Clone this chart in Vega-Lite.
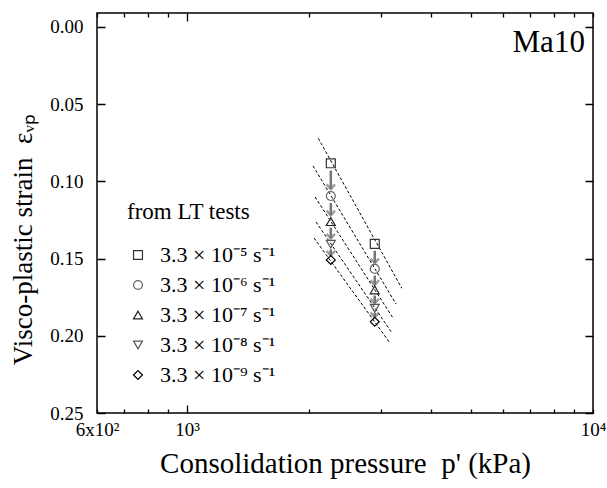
{
  "$schema": "https://vega.github.io/schema/vega-lite/v6.json",
  "width": 496,
  "height": 400,
  "autosize": {"type": "none"},
  "padding": {"left": 97, "top": 13, "right": 14, "bottom": 75},
  "background": "white",
  "config": {
    "font": "Liberation Serif",
    "view": {"stroke": "black", "strokeWidth": 1.5},
    "axis": {
      "domain": false,
      "ticks": false,
      "labelColor": "black",
      "titleColor": "black",
      "labelFont": "Liberation Serif",
      "titleFont": "Liberation Serif",
      "labelFontSize": 19,
      "titleFontSize": 28,
      "titleFontWeight": "normal",
      "labelFlush": false,
      "labelOverlap": false
    }
  },
  "datasets": {
    "points": [
      {"p": 2260, "eps": 0.0883, "rate": "3.3 × 10⁻⁵ s⁻¹"},
      {"p": 2260, "eps": 0.1095, "rate": "3.3 × 10⁻⁶ s⁻¹"},
      {"p": 2260, "eps": 0.1261, "rate": "3.3 × 10⁻⁷ s⁻¹"},
      {"p": 2260, "eps": 0.1407, "rate": "3.3 × 10⁻⁸ s⁻¹"},
      {"p": 2260, "eps": 0.1509, "rate": "3.3 × 10⁻⁹ s⁻¹"},
      {"p": 2900, "eps": 0.1405, "rate": "3.3 × 10⁻⁵ s⁻¹"},
      {"p": 2900, "eps": 0.1567, "rate": "3.3 × 10⁻⁶ s⁻¹"},
      {"p": 2900, "eps": 0.1703, "rate": "3.3 × 10⁻⁷ s⁻¹"},
      {"p": 2900, "eps": 0.1822, "rate": "3.3 × 10⁻⁸ s⁻¹"},
      {"p": 2900, "eps": 0.1909, "rate": "3.3 × 10⁻⁹ s⁻¹"}
    ],
    "lines": [
      {"series": "a", "p": 2105, "eps": 0.0721},
      {"series": "a", "p": 3380, "eps": 0.1692},
      {"series": "b", "p": 2043, "eps": 0.0900},
      {"series": "b", "p": 3272, "eps": 0.1794},
      {"series": "c", "p": 2067, "eps": 0.1101},
      {"series": "c", "p": 3216, "eps": 0.1885},
      {"series": "d", "p": 2078, "eps": 0.1263},
      {"series": "d", "p": 3198, "eps": 0.1982},
      {"series": "e", "p": 2055, "eps": 0.1367},
      {"series": "e", "p": 3162, "eps": 0.2047}
    ],
    "arrows": [
      {"p": 2260, "from": 0.093, "to": 0.105},
      {"p": 2260, "from": 0.114, "to": 0.122},
      {"p": 2260, "from": 0.130, "to": 0.137},
      {"p": 2260, "from": 0.144, "to": 0.148},
      {"p": 2900, "from": 0.145, "to": 0.153},
      {"p": 2900, "from": 0.161, "to": 0.167},
      {"p": 2900, "from": 0.174, "to": 0.179},
      {"p": 2900, "from": 0.185, "to": 0.188}
    ],
    "label": [{"p": 9550, "eps": 0.0162, "text": "Ma10"}]
  },
  "layer": [
    {
      "data": {"name": "lines"},
      "mark": {"type": "line", "color": "black", "strokeWidth": 1, "strokeDash": [3, 2]},
      "encoding": {
        "x": {
          "field": "p", "type": "quantitative",
          "scale": {"type": "log", "domain": [600, 10000], "nice": false},
          "axis": {
            "orient": "bottom",
            "values": [600, 700, 800, 900, 1000, 2000, 3000, 4000, 5000, 6000, 7000, 8000, 9000, 10000],
            "labelExpr": "datum.value == 600 ? '6x10²' : datum.value == 1000 ? '10³' : datum.value == 10000 ? '10⁴' : ''",
            "labelPadding": 7,
            "grid": true,
            "gridColor": "black",
            "gridOpacity": 1,
            "gridWidth": 1.3,
            "gridDash": {"condition": {"test": "datum.value == 1000", "value": [8, 384]}, "value": [4, 392]},
            "title": "Consolidation pressure\u00a0\u00a0p' (kPa)",
            "titleFontSize": 29,
            "titlePadding": 10
          }
        },
        "y": {
          "field": "eps", "type": "quantitative",
          "scale": {"domain": [-0.009, 0.25], "reverse": true, "nice": false, "zero": false},
          "axis": {
            "orient": "left",
            "values": [0, 0.025, 0.05, 0.075, 0.1, 0.125, 0.15, 0.175, 0.2, 0.225, 0.25],
            "labelExpr": "round(datum.value * 1000) % 50 == 0 ? format(datum.value, '.2f') : ''",
            "labelPadding": 14,
            "grid": true,
            "gridColor": "black",
            "gridOpacity": 1,
            "gridWidth": 1.3,
            "gridDash": {"condition": {"test": "round(datum.value * 1000) % 50 == 0", "value": [8, 480]}, "value": [4, 488]},
            "title": "Visco-plastic strain\u00a0\u00a0εᵥₚ",
            "titleFontSize": 27,
            "titleY": 226,
            "titlePadding": 12
          }
        },
        "detail": {"field": "series", "type": "nominal"}
      }
    },
    {
      "data": {"name": "arrows"},
      "mark": {"type": "rule", "color": "#777777", "strokeWidth": 2.5},
      "encoding": {
        "x": {"field": "p", "type": "quantitative"},
        "y": {"field": "from", "type": "quantitative"},
        "y2": {"field": "to"}
      }
    },
    {
      "data": {"name": "arrows"},
      "mark": {"type": "point", "shape": "M-1,-1.1L0,0L1,-1.1", "filled": false, "stroke": "#777777", "strokeWidth": 2.5, "size": 70},
      "encoding": {
        "x": {"field": "p", "type": "quantitative"},
        "y": {"field": "to", "type": "quantitative"}
      }
    },
    {
      "data": {"name": "points"},
      "mark": {"type": "point", "filled": false, "size": 80, "strokeWidth": 1.2, "opacity": 1},
      "encoding": {
        "x": {"field": "p", "type": "quantitative"},
        "y": {"field": "eps", "type": "quantitative"},
        "shape": {
          "field": "rate", "type": "nominal",
          "scale": {
            "domain": ["3.3 × 10⁻⁵ s⁻¹", "3.3 × 10⁻⁶ s⁻¹", "3.3 × 10⁻⁷ s⁻¹", "3.3 × 10⁻⁸ s⁻¹", "3.3 × 10⁻⁹ s⁻¹"],
            "range": ["square", "circle", "triangle-up", "triangle-down", "diamond"]
          },
          "legend": {
            "orient": "none", "legendX": 30, "legendY": 188,
            "title": "from LT tests", "titleFontSize": 23, "titleFontWeight": "normal", "titleColor": "black",
            "titleFont": "Liberation Serif", "titlePadding": 20,
            "labelFontSize": 22, "labelFont": "Liberation Serif", "labelColor": "black",
            "labelOffset": 11, "rowPadding": 8, "symbolSize": 80, "symbolStrokeWidth": 1.2, "offset": 0, "padding": 0
          }
        },
        "color": {
          "field": "rate", "type": "nominal",
          "scale": {
            "domain": ["3.3 × 10⁻⁵ s⁻¹", "3.3 × 10⁻⁶ s⁻¹", "3.3 × 10⁻⁷ s⁻¹", "3.3 × 10⁻⁸ s⁻¹", "3.3 × 10⁻⁹ s⁻¹"],
            "range": ["#333333", "#666666", "#222222", "#555555", "#000000"]
          },
          "legend": {
            "orient": "none", "legendX": 30, "legendY": 188,
            "title": "from LT tests", "titleFontSize": 23, "titleFontWeight": "normal", "titleColor": "black",
            "titleFont": "Liberation Serif", "titlePadding": 20,
            "labelFontSize": 22, "labelFont": "Liberation Serif", "labelColor": "black",
            "labelOffset": 11, "rowPadding": 8, "symbolSize": 80, "symbolStrokeWidth": 1.2, "offset": 0, "padding": 0
          }
        }
      }
    },
    {
      "data": {"name": "label"},
      "mark": {"type": "text", "align": "right", "baseline": "alphabetic", "fontSize": 31, "font": "Liberation Serif", "color": "black"},
      "encoding": {
        "x": {"field": "p", "type": "quantitative"},
        "y": {"field": "eps", "type": "quantitative"},
        "text": {"field": "text"}
      }
    }
  ]
}
